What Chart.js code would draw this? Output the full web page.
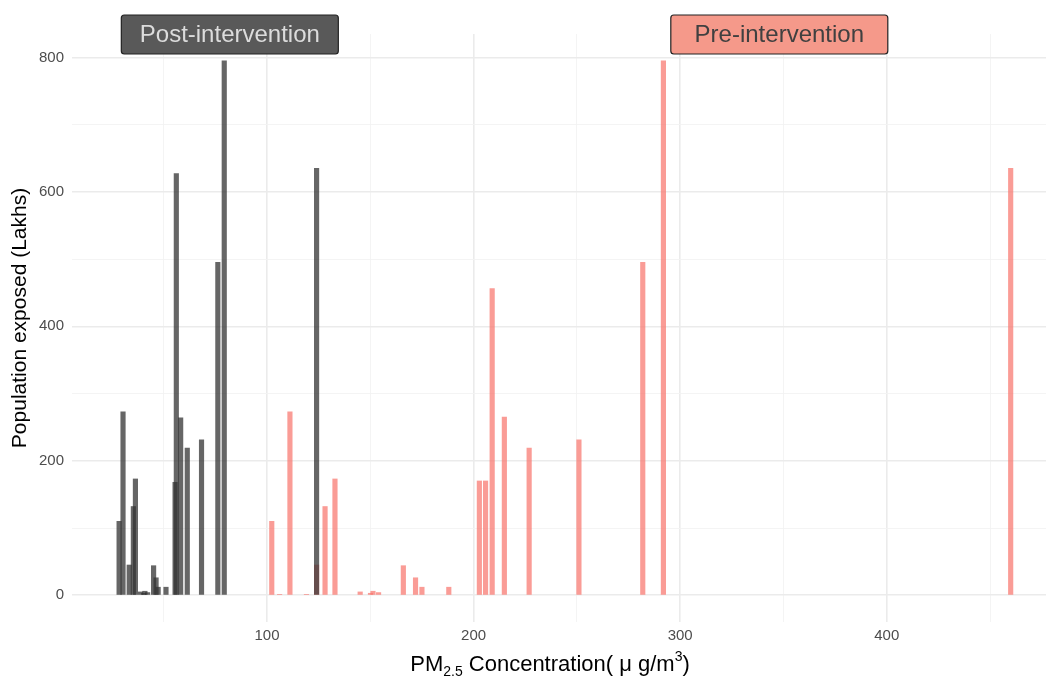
<!DOCTYPE html>
<html>
<head>
<meta charset="utf-8">
<script src="https://cdn.jsdelivr.net/npm/chart.js@4.4.1/dist/chart.umd.min.js"></script>
<style>
  html, body { margin: 0; padding: 0; background: #fff; }
  #wrap { width: 1046px; height: 677px; }
</style>
</head>
<body>
<div id="wrap"><canvas id="pmChart" width="1046" height="677"></canvas></div>
<script>
// PM2.5 concentration (ug/m3) per city and population exposed (lakhs)
const postX   = [28.4, 30.3, 33.3, 35.3, 36.3, 38.8, 40.3, 40.9, 42.2, 45.1, 46.3, 47.3, 51.1, 55.5, 56.1, 58.2, 61.4, 68.3, 76.2, 79.3, 124.0];
const postPop = [110, 273, 45, 132, 173, 5, 3, 6, 4, 44, 26, 12, 12, 168, 627, 264, 219, 231, 495, 795, 635];

const preX    = [102.3, 106.1, 111.1, 119.1, 124.0, 128.1, 132.9, 145.1, 150.1, 151.3, 154.0, 166.0, 171.9, 175.0, 188.0, 202.8, 205.8, 209.0, 214.9, 226.9, 251.0, 281.9, 291.9, 460.0];
const prePop  = [110, 1, 273, 1, 45, 132, 173, 5, 3, 6, 4, 44, 26, 12, 12, 170, 170, 456, 265, 219, 231, 495, 795, 635];

const xTicks = [50, 100, 150, 200, 250, 300, 350, 400, 450];
const yTicks = [0, 100, 200, 300, 400, 500, 600, 700, 800];

const labelNames = ['Post-intervention', 'Pre-intervention'];
const labelX = [82, 348];
const labelY = 834;

const FONT = '"Liberation Sans", Arial, Helvetica, sans-serif';

const toPoints = (xs, ys) => xs.map((x, i) => ({ x: x, y: ys[i] }));

// titres d'axes et étiquettes
const decorPlugin = {
  id: 'decor',
  afterDraw(chart) {
    const { ctx, chartArea, scales } = chart;

    // y axis title
    ctx.save();
    ctx.translate(20, (chartArea.top + chartArea.bottom) / 2 - 10);
    ctx.rotate(-Math.PI / 2);
    ctx.font = '21px ' + FONT;
    ctx.fillStyle = '#000';
    ctx.textAlign = 'center';
    ctx.textBaseline = 'middle';
    ctx.fillText('Population exposed (Lakhs)', 0, 0);
    ctx.restore();

    // x axis title with sub / superscript
    const parts = [
      { t: 'PM', size: 22, dy: 0 },
      { t: '2.5', size: 14, dy: 5 },
      { t: ' Concentration( \u03bc g/m', size: 22, dy: 0 },
      { t: '3', size: 14, dy: -10 },
      { t: ')', size: 22, dy: 0 }
    ];
    ctx.save();
    ctx.fillStyle = '#000';
    ctx.textBaseline = 'alphabetic';
    let total = 0;
    parts.forEach(p => { ctx.font = p.size + 'px ' + FONT; p.w = ctx.measureText(p.t).width; total += p.w; });
    let x = (chartArea.left + chartArea.right) / 2 - 9 - total / 2;
    const base = 671;
    parts.forEach(p => {
      ctx.font = p.size + 'px ' + FONT;
      ctx.textAlign = 'left';
      ctx.fillText(p.t, x, base + p.dy);
      x += p.w;
    });
    ctx.restore();

    // group labels
    const styles = [
      { fill: '#595959', text: '#dcdcdc' },
      { fill: '#f5998a', text: '#404040' }
    ];
    ctx.save();
    labelNames.forEach((name, i) => {
      const cx = scales.x.getPixelForValue(labelX[i]);
      const cy = scales.y.getPixelForValue(labelY);
      const w = 217, h = 39;
      ctx.beginPath();
      ctx.roundRect(cx - w / 2, cy - h / 2, w, h, 3);
      ctx.fillStyle = styles[i].fill;
      ctx.fill();
      ctx.lineWidth = 1.2;
      ctx.strokeStyle = '#222';
      ctx.stroke();
      ctx.font = '24px ' + FONT;
      ctx.fillStyle = styles[i].text;
      ctx.textAlign = 'center';
      ctx.textBaseline = 'middle';
      ctx.fillText(name, cx, cy + 1);
    });
    ctx.restore();
  }
};

const ctxPm = document.getElementById('pmChart');

new Chart(ctxPm, {
  type: 'bar',
  data: {
    datasets: [
      {
        label: 'Post-intervention',
        data: toPoints(postX, postPop),
        backgroundColor: 'rgba(51, 51, 51, 0.75)',
        barThickness: 4.5,
        grouped: false
      },
      {
        label: 'Pre-intervention',
        data: toPoints(preX, prePop),
        backgroundColor: 'rgba(248, 118, 109, 0.72)',
        barThickness: 4.5,
        grouped: false
      }
    ]
  },
  options: {
    responsive: false,
    animation: false,
    layout: { padding: { top: 34, left: 0, right: 0, bottom: 0 } },
    plugins: {
      legend: { display: false },
      tooltip: { enabled: false }
    },
    scales: {
      x: {
        type: 'linear',
        min: 5.6,
        max: 477.1,
        offset: false,
        afterBuildTicks: s => { s.ticks = xTicks.map(v => ({ value: v })); },
        afterFit: s => { s.height = 55; },
        border: { display: false },
        grid: {
          offset: false,
          drawTicks: false,
          color: c => (c.tick && c.tick.value % 100 === 0) ? '#ebebeb' : '#f3f3f3',
          lineWidth: c => (c.tick && c.tick.value % 100 === 0) ? 1.6 : 0.9
        },
        ticks: {
          autoSkip: false,
          maxRotation: 0,
          padding: 5,
          color: '#4d4d4d',
          font: { family: FONT, size: 15 },
          callback: v => v % 100 === 0 ? v : ''
        }
      },
      y: {
        min: -39.75,
        max: 834.75,
        afterBuildTicks: s => { s.ticks = yTicks.map(v => ({ value: v })); },
        afterFit: s => { s.width = 72; },
        border: { display: false },
        grid: {
          drawTicks: false,
          color: c => (c.tick && c.tick.value % 200 === 0) ? '#ebebeb' : '#f3f3f3',
          lineWidth: c => (c.tick && c.tick.value % 200 === 0) ? 1.6 : 0.9
        },
        ticks: {
          autoSkip: false,
          padding: 8,
          color: '#4d4d4d',
          font: { family: FONT, size: 15 },
          callback: v => v % 200 === 0 ? v : ''
        }
      }
    }
  },
  plugins: [decorPlugin]
});
</script>
</body>
</html>
